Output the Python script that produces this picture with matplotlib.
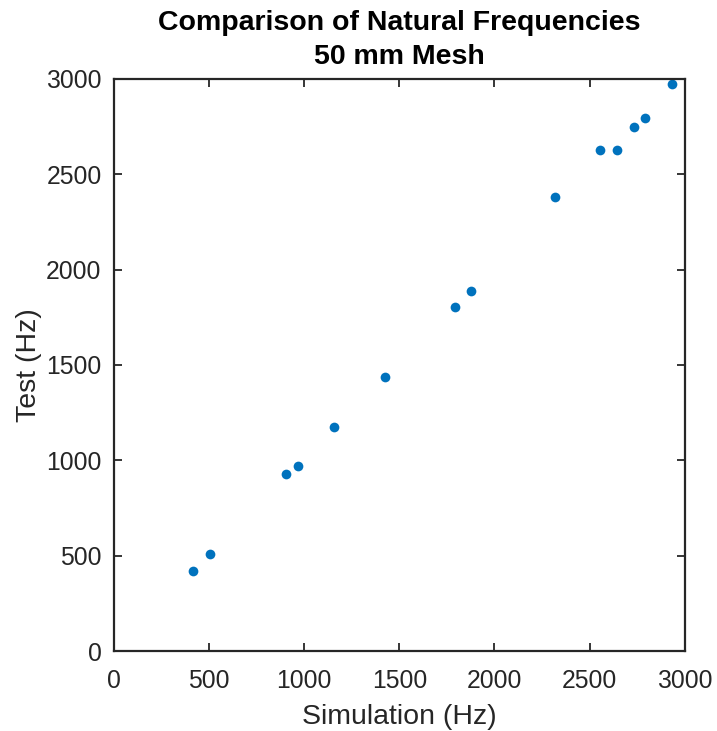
import matplotlib
matplotlib.use('Agg')
import matplotlib.pyplot as plt

# Natural frequencies, simulation vs test (Hz)
sim_hz = [415, 505, 904, 965, 1158, 1424, 1793, 1876, 2317, 2555, 2643, 2731, 2790, 2932]
test_hz = [418, 510, 928, 970, 1176, 1438, 1802, 1888, 2383, 2628, 2628, 2749, 2796, 2971]

ticks = [0, 500, 1000, 1500, 2000, 2500, 3000]

plt.rcParams['font.family'] = ['Liberation Sans', 'DejaVu Sans']

fig = plt.figure(figsize=(7.17, 7.31), dpi=100)
ax = fig.add_axes([0.159, 0.1094, 0.796, 0.7826])

ax.plot(sim_hz, test_hz, 'o', color='#0072BD', markersize=7, markeredgewidth=0)

ax.set_xlim(0, 3000)
ax.set_ylim(0, 3000)
ax.set_xticks(ticks)
ax.set_yticks(ticks)

ax.tick_params(direction='in', length=6, width=1.3, top=True, right=True,
               labelsize=17.8, colors='#262626')
ax.tick_params(axis='x', pad=13)
ax.tick_params(axis='y', pad=9)
for s in ax.spines.values():
    s.set_linewidth(1.6)
    s.set_color('#262626')

ax.set_xlabel('Simulation (Hz)', fontsize=20.5, color='#262626', labelpad=8)
ax.set_ylabel('Test (Hz)', fontsize=20.5, color='#262626', labelpad=3)
ax.set_title('Comparison of Natural Frequencies\n50 mm Mesh', fontsize=20.5,
             fontweight='bold', color='black', pad=11, linespacing=1.4)

fig.savefig('out.png', dpi=100)
plt.close(fig)
